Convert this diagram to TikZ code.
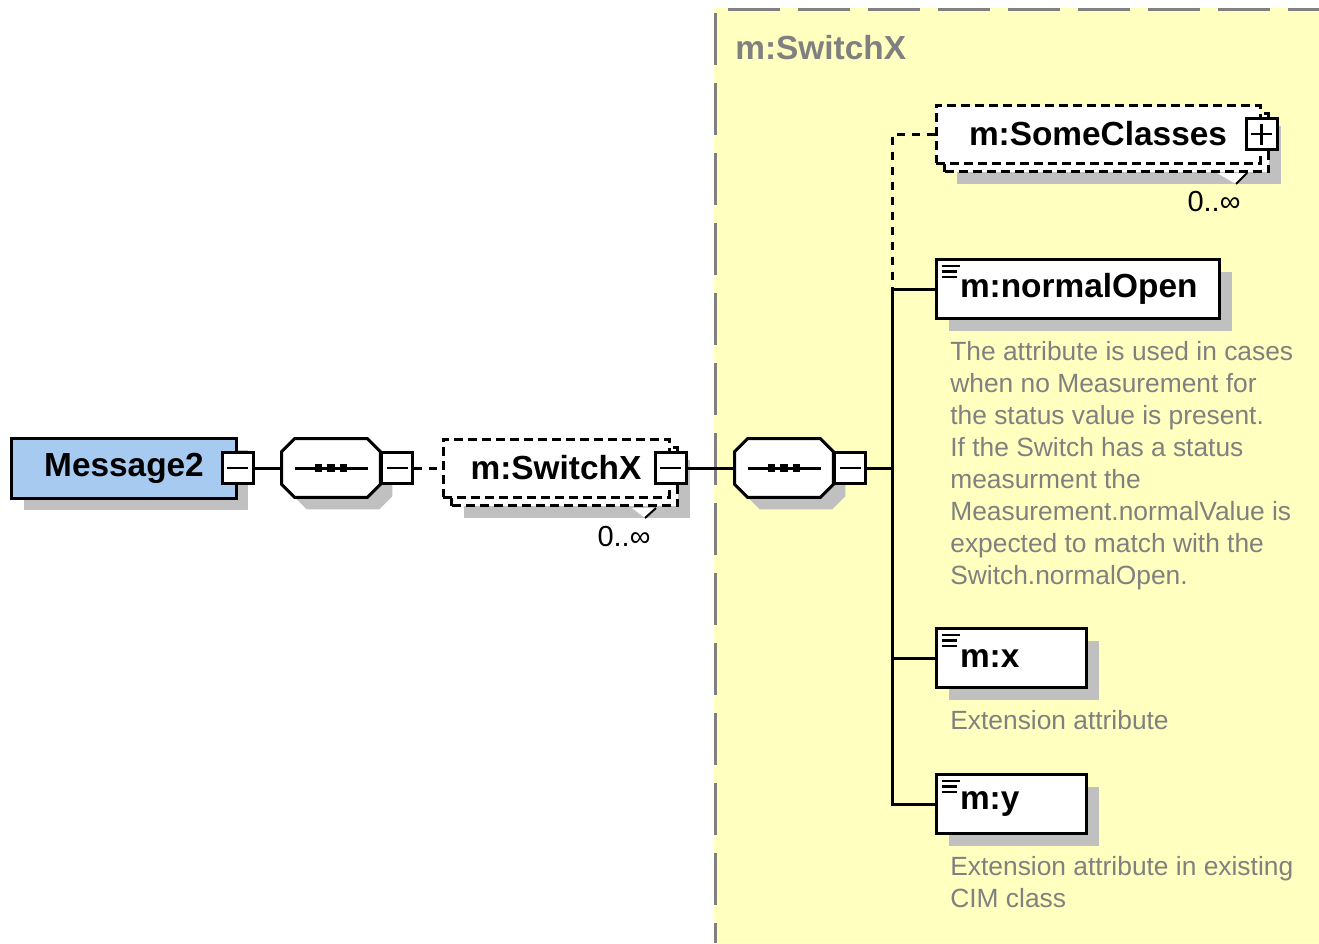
\documentclass[tikz,border=0pt]{standalone}
\usepackage{fontspec}
\setmainfont{Liberation Sans}
\usepackage{tikz}
\usetikzlibrary{shadows, calc}
\definecolor{schemayellow}{RGB}{255,255,192}
\definecolor{msgblue}{RGB}{166,202,240}
\definecolor{shadowgray}{RGB}{192,192,192}
\definecolor{framegray}{RGB}{128,128,128}

\begin{document}
\begin{tikzpicture}[x=0.2mm, y=-0.2mm,
  lbl/.style={font=\fontsize{19}{22}\selectfont\bfseries},
  elembox/.style={draw, line width=0.6mm, fill=white, inner sep=0pt, lbl},
  elemshadow/.style={general shadow={fill=shadowgray, shadow xshift=2.4mm, shadow yshift=-2.4mm}},
  stackbox/.style={elembox, dash pattern=on 1.8mm off 1mm,
    general shadow={fill=shadowgray, shadow xshift=4.2mm, shadow yshift=-4.2mm},
    general shadow={fill=white, draw=black, line width=0.6mm, dash pattern=on 1.8mm off 1mm, shadow xshift=1.7mm, shadow yshift=-1.7mm}},
  attrbox/.style={elembox, elemshadow, anchor=north west, align=left, inner xsep=4.7mm, minimum height=11.8mm,
    path picture={
      \draw[line width=0.5mm] ([shift={(1mm,-1.3mm)}]path picture bounding box.north west) -- ++(3.6mm,0);
      \draw[line width=0.5mm] ([shift={(1mm,-2.4mm)}]path picture bounding box.north west) -- ++(3mm,0);
      \draw[line width=0.5mm] ([shift={(1mm,-3.5mm)}]path picture bounding box.north west) -- ++(3mm,0);}},
  seqbox/.style={inner sep=0pt, minimum width=19.6mm, minimum height=11.6mm},
  togminus/.style={draw, line width=0.6mm, fill=white, inner sep=0pt, minimum size=6.2mm,
    path picture={\draw[line width=0.5mm] ([xshift=1mm]path picture bounding box.west) -- ([xshift=-1mm]path picture bounding box.east);}},
  togplus/.style={draw, line width=0.6mm, fill=white, inner sep=0pt, minimum size=6.2mm,
    path picture={\draw[line width=0.5mm] ([xshift=1mm]path picture bounding box.west) -- ([xshift=-1mm]path picture bounding box.east);
      \draw[line width=0.5mm] ([yshift=-1mm]path picture bounding box.north) -- ([yshift=1mm]path picture bounding box.south);}},
  conn/.style={line width=0.6mm},
  dashconn/.style={conn, dash pattern=on 1.6mm off 1.4mm},
  desc/.style={anchor=north west, align=left, inner sep=0pt, text=framegray, font=\fontsize{15}{18.2}\selectfont},
  mult/.style={inner sep=0pt, font=\fontsize{16.5}{18}\selectfont}]
  \useasboundingbox (0,0) rectangle (1319,943);

  \fill[schemayellow] (714,8) rectangle (1319,943);
  \draw[framegray, line width=0.6mm, dash pattern=on 10.4mm off 3.6mm] (715.5,13) -- (715.5,943);
  \draw[framegray, line width=0.6mm, dash pattern=on 10.4mm off 3.6mm] (728,9) -- (1319,9);
  \node[lbl, text=framegray, anchor=west, inner sep=0pt] (grouptitle) at (735,48) {m:SwitchX};

  \node[elembox, elemshadow, fill=msgblue, minimum width=44.8mm, minimum height=12mm] (msg) at (124,468) {Message2};
  \node[togminus] (msgtog) at (msg.east) {};
  \node[seqbox] (seqa) at (331,468) {};
  \node[stackbox, minimum width=45.2mm, minimum height=11.6mm] (swx) at (556,468) {m:SwitchX};
  \node[togminus] (swxtog) at (swx.east) {};
  \node[seqbox] (seqb) at (784,468) {};

  \foreach \s in {seqa, seqb} {
    \draw[conn, fill=white, elemshadow] ([xshift=2.6mm]\s.north west) -- ([xshift=-2.6mm]\s.north east)
      -- ([yshift=-2.6mm]\s.north east) -- ([yshift=2.6mm]\s.south east) -- ([xshift=-2.6mm]\s.south east)
      -- ([xshift=2.6mm]\s.south west) -- ([yshift=2.6mm]\s.south west) -- ([yshift=-2.6mm]\s.north west) -- cycle;
    \draw[conn] ([xshift=2.6mm]\s.west) -- ([xshift=-2.4mm]\s.east);
    \foreach \d in {-2.5, 0, 2.5}
      \fill ([shift={(\d*1mm-0.75mm,-0.75mm)}]\s.center) rectangle ++(1.5mm,1.5mm);
  }
  \node[togminus, anchor=west] (seqatog) at (seqa.east) {};
  \node[togminus, anchor=west] (seqbtog) at (seqb.east) {};

  \node[stackbox, minimum width=64.8mm, minimum height=11.6mm] (some) at (1098,134) {m:SomeClasses};
  \node[togplus] (sometog) at (some.east) {};
  \node[attrbox, text width=47.2mm] (nopen) at (935,258) {m:normalOpen};
  \node[attrbox, text width=20.6mm] (attrx) at (935,627) {m:x};
  \node[attrbox, text width=20.6mm] (attry) at (935,773) {m:y};

  \fill[white] (632,508) -- (656,508) -- (645,518) -- cycle;
  \draw[line width=0.4mm] (656,508) -- (645,518);
  \fill[white] (1217,173) -- (1247,173) -- (1236,184) -- cycle;
  \draw[line width=0.4mm] (1247,173) -- (1236,184);
  \node[mult] (swxmult) at (624,537) {0..∞};
  \node[mult] (somemult) at (1214,202) {0..∞};

  \draw[conn] (msgtog.east) -- (seqa.west);
  \draw[dashconn] (seqatog.east) -- (swx.west);
  \draw[conn] (swxtog.east) -- (seqb.west);
  \coordinate (fork) at (892,468);
  \draw[conn] (seqbtog.east) -- (fork);
  \draw[dashconn] (some.west) -| (fork |- nopen.west);
  \draw[conn] (nopen.west) -| (fork |- attry.west) -- (attry.west);
  \draw[conn] (fork |- attrx.west) -- (attrx.west);

  \node[desc] (nopendesc) at (950,341) {The attribute is used in cases\\when no Measurement for\\the status value is present.\\If the Switch has a status\\measurment the\\Measurement.normalValue is\\expected to match with the\\Switch.normalOpen.};
  \node[desc] (attrxdesc) at (950,710) {Extension attribute};
  \node[desc] (attrydesc) at (950,856) {Extension attribute in existing\\CIM class};
\end{tikzpicture}
\end{document}
